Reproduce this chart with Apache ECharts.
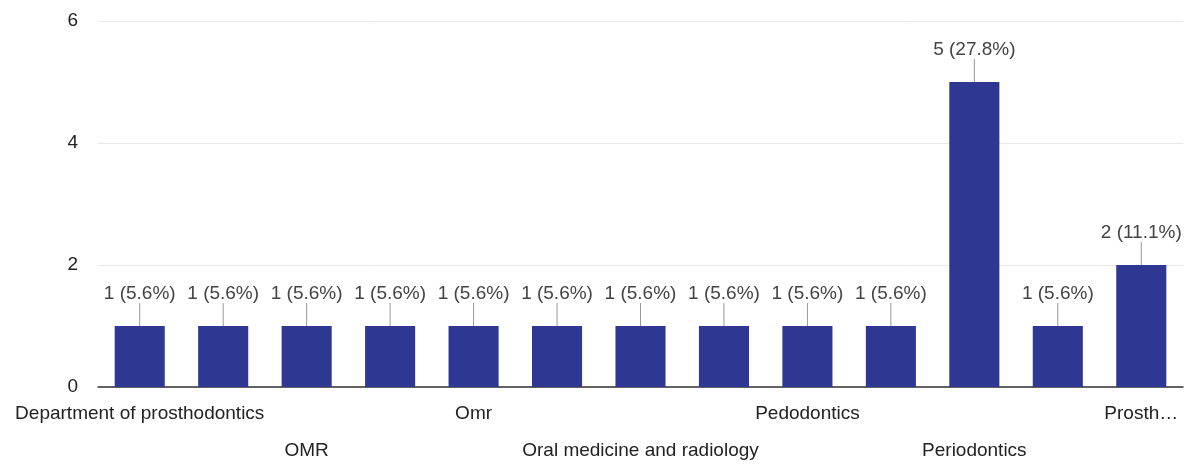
<!DOCTYPE html>
<html><head><meta charset="utf-8">
<script src="https://cdn.jsdelivr.net/npm/echarts@6/dist/echarts.min.js"></script>
<style>html,body{margin:0;padding:0;background:#fff}#c{width:1192px;height:466px}</style>
</head><body><div id="c"></div>
<script>
const categories = ["Department of prosthodontics","Endodontics","OMR","OMR ","Omr","Oral medicine","Oral medicine and radiology","Orthodontics","Pedodontics","Periodontia","Periodontics","Periodontology","Prosthodontics"];
const values = [1,1,1,1,1,1,1,1,1,1,5,1,2];
const total = 18;
const yTicks = [0,2,4,6];

const chart = echarts.init(document.getElementById('c'));
chart.setOption({
  animation:false,
  grid:{left:98,right:9,top:21,bottom:79,outerBoundsMode:'none',containLabel:false},
  xAxis:{type:'category',data:categories,
    axisLine:{lineStyle:{color:'#333',width:1.5}},
    axisTick:{show:false},
    axisLabel:{interval:0,margin:8,fontSize:19,color:'#222',fontFamily:'Liberation Sans, Arial',lineHeight:37,
      formatter:function(v,i){ if(i%2===1) return ''; let t = v;
        if(i===categories.length-1) t = v.slice(0,6)+'…';
        return (i%4===2)?'\n'+t:t; }}
  },
  yAxis:{type:'value',min:yTicks[0],max:yTicks[yTicks.length-1],interval:2,
    axisLabel:{fontSize:19,color:'#222',margin:20,fontFamily:'Liberation Sans, Arial'},
    splitLine:{lineStyle:{color:'#e8e8e8'}},axisLine:{show:false},axisTick:{show:false}},
  series:[{type:'bar',data:values,barWidth:'60%',
    itemStyle:{color:'#2e3893'},
    label:{show:true,position:'top',distance:4,fontSize:19,color:'#444',fontFamily:'Liberation Sans, Arial',
      formatter:function(p){return p.value+' ('+(p.value/total*100).toFixed(1)+'%)';}},
    labelLayout:{dy:-19},
    labelLine:{show:true,lineStyle:{color:'#999',width:1}}
  }]
});
</script></body></html>
